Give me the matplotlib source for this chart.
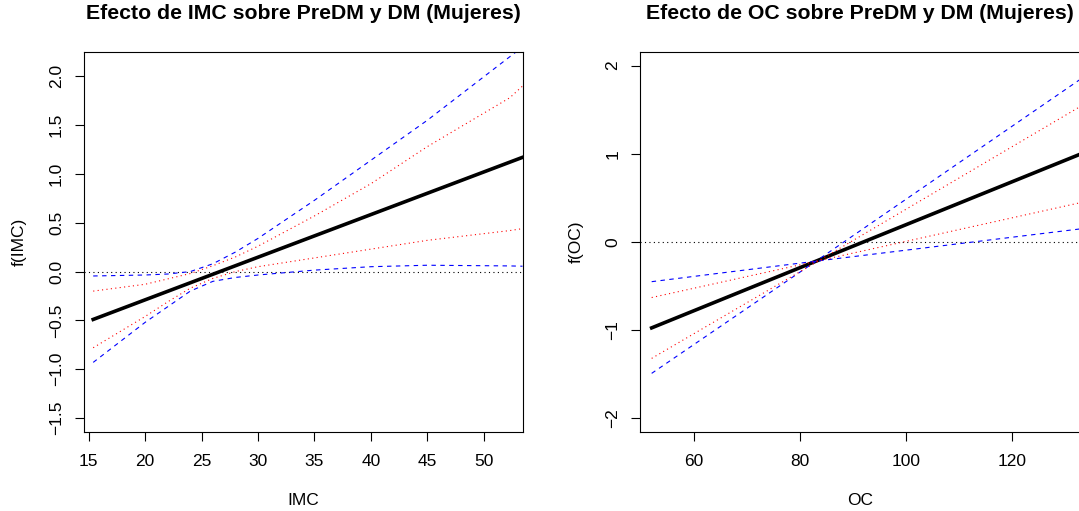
import numpy as np
import matplotlib
matplotlib.use('Agg')
import matplotlib.pyplot as plt
from matplotlib import rcParams

rcParams.update({'font.family': 'sans-serif', 'font.sans-serif': ['Liberation Sans', 'DejaVu Sans'],
                 'font.size': 12.5, 'axes.linewidth': 0.8})

# --- IMC panel ---
imc_x = [15.4, 20, 22, 24, 26, 28, 30, 35, 40, 45, 52.3, 53.43]
imc_fit_x = [15.4, 53.43]
imc_fit = [-0.49, 1.17]
imc_blue_hi = [-0.045, -0.035, -0.025, 0.0, 0.08, 0.2, 0.34, 0.73, 1.14, 1.55, 2.2, 2.3]
imc_blue_lo = [-0.93, -0.52, -0.36, -0.2, -0.1, -0.06, -0.035, 0.015, 0.05, 0.065, 0.058, 0.055]
imc_red_hi = [-0.2, -0.13, -0.075, -0.02, 0.06, 0.15, 0.26, 0.57, 0.9, 1.28, 1.78, 1.9]
imc_red_lo = [-0.78, -0.46, -0.31, -0.17, -0.07, 0.0, 0.05, 0.14, 0.23, 0.32, 0.42, 0.44]

# --- OC panel ---
oc_x = [52.0, 83.3, 132.8]
oc_fit = [-0.974, -0.21, 0.995]
oc_blue_a = [-0.45, -0.215, 0.148]
oc_blue_b = [-1.49, -0.205, 1.843]
oc_red_a = [-0.63, -0.215, 0.445]
oc_red_b = [-1.32, -0.22, 1.535]

W, H = 1079, 511
fig = plt.figure(figsize=(W / 100, H / 100), dpi=100)


def panel(rect, title, xlabel, ylabel, xlim, ylim, xticks, yticks, yfmt):
    l, b, w, h = rect
    ax = fig.add_axes([l / W, b / H, w / W, h / H])
    ax.set_xlim(xlim)
    ax.set_ylim(ylim)
    ax.set_xticks(xticks)
    ax.set_yticks(yticks)
    ax.set_yticklabels([yfmt.format(v).replace('-', '\u2212') for v in yticks],
                       rotation=90, va='center')
    ax.tick_params(direction='out', length=6.5, width=0.8, labelsize=12.5)
    ax.tick_params(axis='x', pad=9.5)
    ax.tick_params(axis='y', pad=7.5)
    ax.set_xlabel(xlabel, fontsize=12.5, labelpad=17)
    ax.set_ylabel(ylabel, fontsize=12.5, labelpad=16)
    ax.text(0.5, 1 + 38 / h, title, transform=ax.transAxes, ha='center', va='center',
            fontsize=15.3, fontweight='bold')
    ax.axhline(0, color='black', lw=0.8, linestyle=(0, (1, 3)))
    return ax


ax1 = panel((83.5, 79, 439, 380), 'Efecto de IMC sobre PreDM y DM (Mujeres)', 'IMC', 'f(IMC)',
            (14.54, 53.43), (-1.643, 2.249), np.arange(15, 51, 5), np.arange(-1.5, 2.01, 0.5), '{:.1f}')
ax1.plot(imc_fit_x, imc_fit, color='black', lw=2.6)
for yv in (imc_blue_hi, imc_blue_lo):
    ax1.plot(imc_x, yv, color='blue', lw=0.8, linestyle=(0, (4, 4)))
for yv in (imc_red_hi, imc_red_lo):
    ax1.plot(imc_x, yv, color='red', lw=0.8, linestyle=(0, (1, 3)))

ax2 = panel((640, 79, 440, 380), 'Efecto de OC sobre PreDM y DM (Mujeres)', 'OC', 'f(OC)',
            (49.8, 132.8), (-2.155, 2.155), [60, 80, 100, 120], [-2, -1, 0, 1, 2], '{:d}')
ax2.plot(oc_x, oc_fit, color='black', lw=2.6)
for yv in (oc_blue_a, oc_blue_b):
    ax2.plot(oc_x, yv, color='blue', lw=0.8, linestyle=(0, (4, 4)))
for yv in (oc_red_a, oc_red_b):
    ax2.plot(oc_x, yv, color='red', lw=0.8, linestyle=(0, (1, 3)))

fig.savefig('out.png', dpi=100)
